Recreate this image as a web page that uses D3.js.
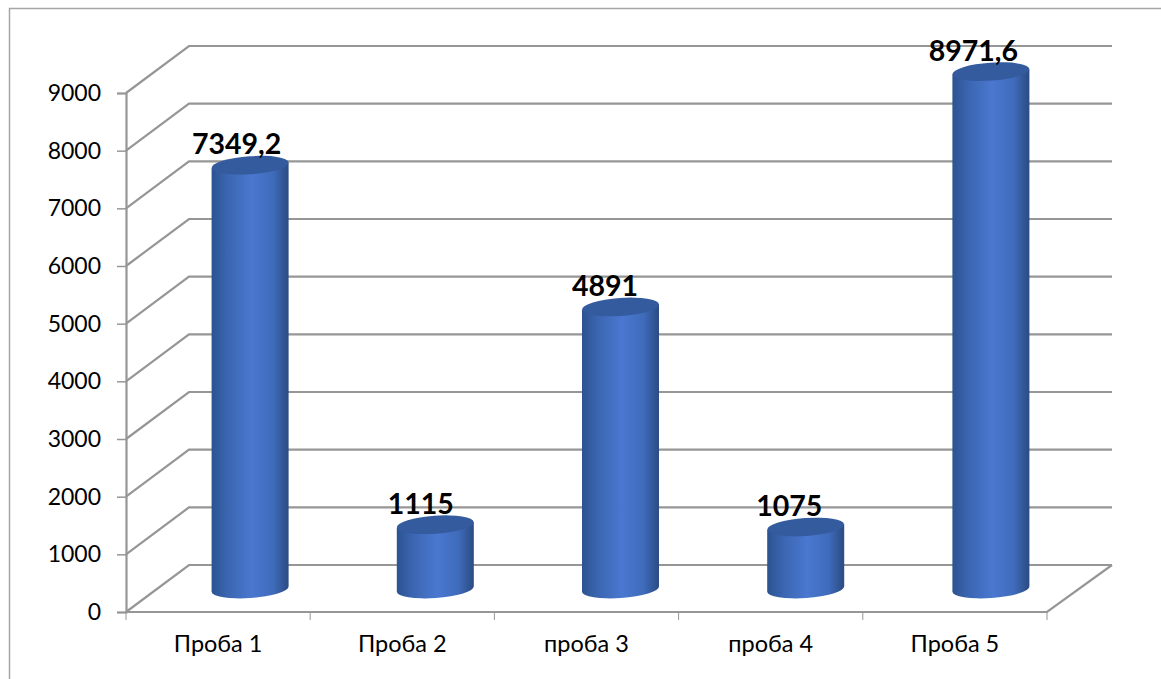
<!DOCTYPE html>
<html lang="ru">
<head>
<meta charset="utf-8">
<script src="https://cdn.jsdelivr.net/npm/d3@7"></script>
<style>
  html, body { margin: 0; padding: 0; background: #fff; }
  svg { display: block; }
  text { font-family: "Lato", "Open Sans", sans-serif; fill: #000; }
</style>
</head>
<body>
<svg id="chart" width="1161" height="679"></svg>
<script>
// Пробы и измеренные значения
const categories = ["Проба 1", "Проба 2", "проба 3", "проба 4", "Проба 5"];
const values = [7349.2, 1115, 4891, 1075, 8971.6];
const valueLabels = ["7349,2", "1115", "4891", "1075", "8971,6"];
const tickValues = [0, 1000, 2000, 3000, 4000, 5000, 6000, 7000, 8000, 9000];

const width = 1161, height = 679;
const svg = d3.select("#chart");

// Oblique projection of the 3D box: front plane plus a fixed depth offset
const depthX = 63, depthY = -47;
const frontLeft = 126, frontRight = 1047;
const y = d3.scaleLinear().domain([0, 9000]).range([612, 93]);
const xFront = d3.scaleBand().domain(categories).range([frontLeft, frontRight]);

// Cylinders stand in the middle of the floor
const xBars = d3.scaleBand().domain(categories).range([157.5, 1083.5]);
const barBase = 589;
const barScale = d3.scaleLinear().domain([0, 9000]).range([barBase, 70]);
const barWidth = 77, capRy = 9, tilt = -4;

const gridColor = "#969696";

// Outer frame: only the left and top edges fall inside the canvas
svg.append("path")
  .attr("d", `M9.5,${height} V8.5 H${width}`)
  .attr("fill", "none").attr("stroke", "#a6a6a6").attr("stroke-width", 1.5);

const defs = svg.append("defs");
const body = defs.append("linearGradient").attr("id", "cylinderBody")
  .attr("x1", 0).attr("x2", 1).attr("y1", 0).attr("y2", 0);
[[0, "#2c5290"], [0.2, "#3a65b0"], [0.52, "#4a78d0"], [0.8, "#3f6bbb"], [1, "#2b4b82"]]
  .forEach(([o, c]) => body.append("stop").attr("offset", o).attr("stop-color", c));

// Side-wall and back-wall gridlines
svg.append("g").selectAll("path").data(tickValues).join("path")
  .attr("d", d => `M${frontLeft},${y(d)} L${frontLeft + depthX},${y(d) + depthY} H${frontRight + depthX + 2}`)
  .attr("fill", "none").attr("stroke", gridColor).attr("stroke-width", 2.2);

// Floor: front edge and right edge
svg.append("path")
  .attr("d", `M${frontLeft},${y(0)} H${frontRight} L${frontRight + depthX + 2},${y(0) + depthY}`)
  .attr("fill", "none").attr("stroke", gridColor).attr("stroke-width", 2.2);

// Value axis
const yAxis = d3.axisLeft(y).tickValues(tickValues).tickSize(9).tickPadding(16).tickFormat(d3.format("d"));
const gy = svg.append("g").attr("transform", `translate(${frontLeft},0)`).call(yAxis);
gy.select(".domain").attr("stroke", gridColor).attr("stroke-width", 2.2);
gy.selectAll(".tick line").attr("stroke", gridColor).attr("stroke-width", 1.5);
gy.selectAll("text").style("font-size", "23px");

// Category axis with ticks on the band boundaries
const gx = svg.append("g").attr("transform", `translate(0,${y(0)})`)
  .call(d3.axisBottom(xFront).tickSize(0).tickPadding(23));
gx.select(".domain").remove();
gx.selectAll("text").style("font-size", "23.5px");
const boundaries = categories.map(c => xFront(c)).concat(frontRight);
gx.append("g").selectAll("line").data(boundaries).join("line")
  .attr("x1", d => d).attr("x2", d => d).attr("y1", 0).attr("y2", 8)
  .attr("stroke", gridColor).attr("stroke-width", 1);

// Cylinders
const rows = categories.map((c, i) => ({ c, v: values[i], label: valueLabels[i] }));
const bars = svg.append("g").selectAll("g").data(rows).join("g")
  .attr("transform", d => `translate(${xBars(d.c) + xBars.bandwidth() / 2},0)`);

const rad = tilt * Math.PI / 180;
const dy = barWidth / 2 * Math.sin(rad);
bars.append("path")
  .attr("d", d => {
    const t = barScale(d.v), r = barWidth / 2;
    return `M${-r},${t - dy} L${-r},${barBase - dy}`
      + ` A${r},${capRy} ${tilt} 0 0 ${r},${barBase + dy}`
      + ` L${r},${t + dy} Z`;
  })
  .attr("fill", "url(#cylinderBody)");
bars.append("ellipse")
  .attr("rx", barWidth / 2).attr("ry", capRy)
  .attr("transform", d => `translate(0,${barScale(d.v)}) rotate(${tilt})`)
  .attr("fill", "#345b9e");

// Value labels above the caps, spaced on the front-plane bands
svg.append("g").selectAll("text").data(rows).join("text")
  .attr("x", d => xFront(d.c) + xFront.bandwidth() / 2 + 18.5)
  .attr("y", d => barScale(d.v) - 21)
  .attr("dy", "0.35em")
  .attr("text-anchor", "middle")
  .style("font-size", "28.5px").style("font-weight", 700)
  .text(d => d.label);
</script>
</body>
</html>
